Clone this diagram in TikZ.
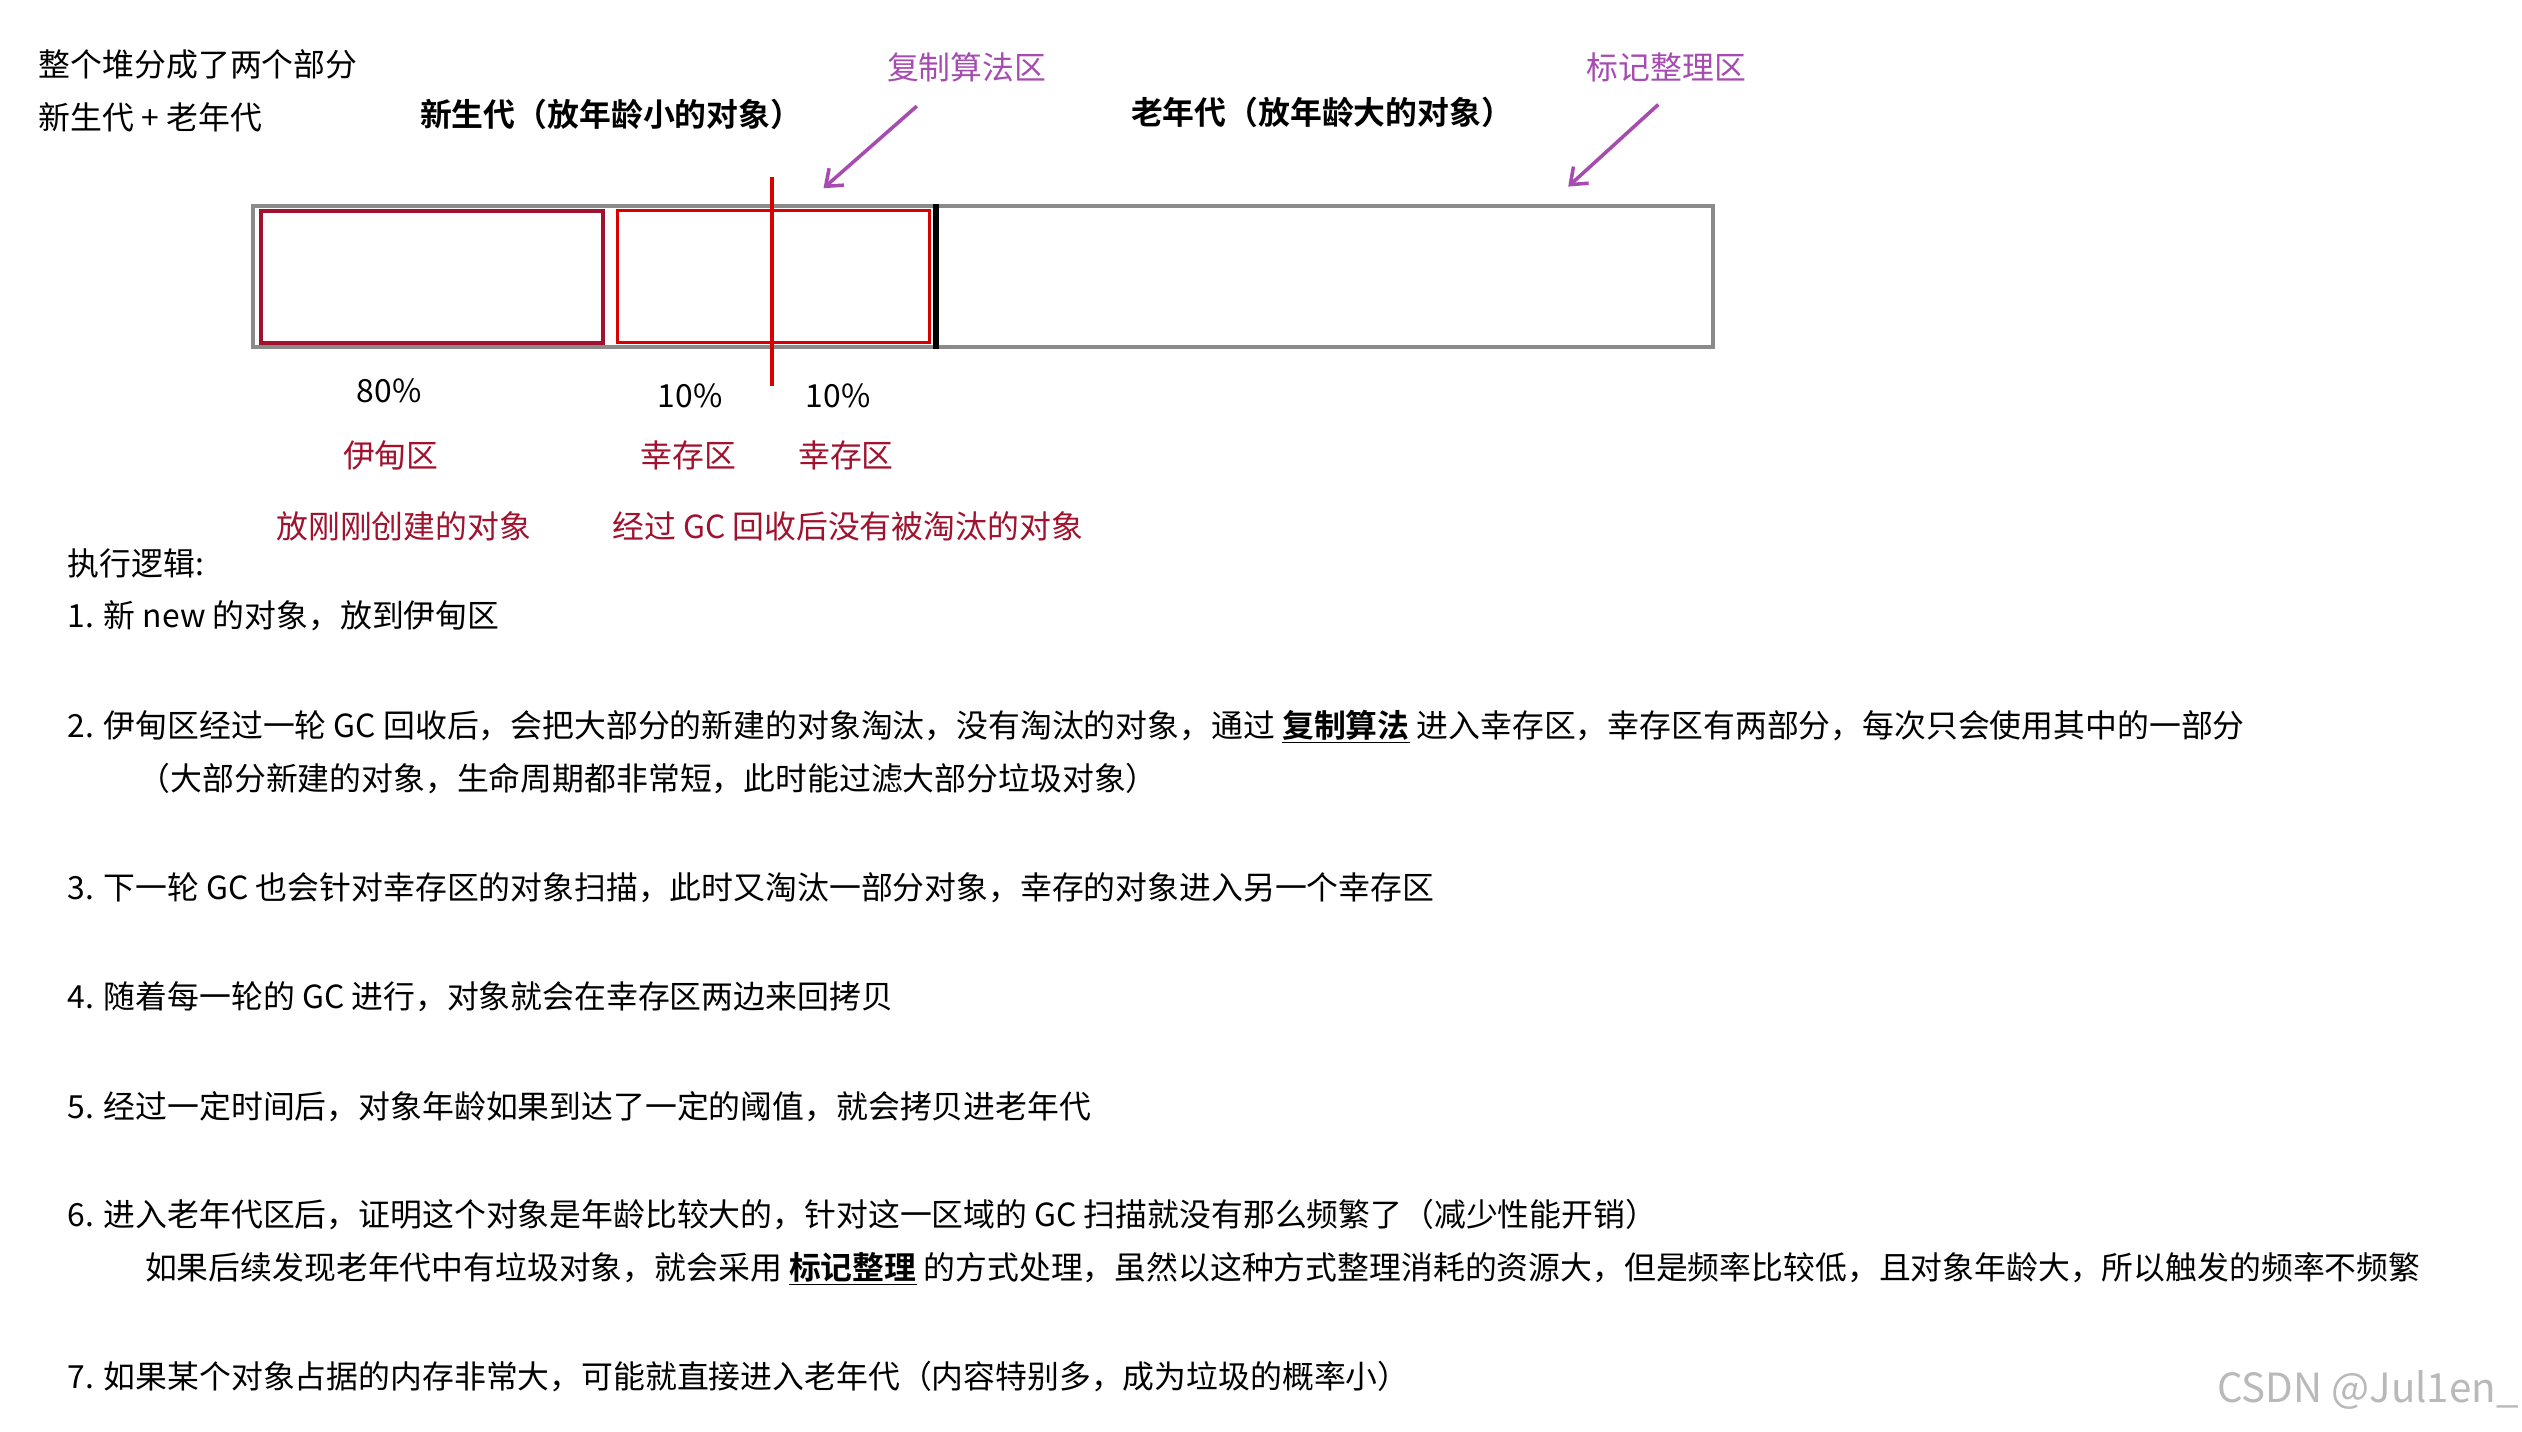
\documentclass[tikz,border=0pt]{standalone}
\usepackage{fontspec}
\setmainfont{Noto Sans CJK SC}[BoldFont={* Bold}]
\definecolor{dred}{HTML}{A0122E}
\definecolor{purp}{HTML}{A64CB0}
\definecolor{gbox}{HTML}{8A8A8A}
\tikzset{t/.style={font=\fontsize{19.8}{24}\selectfont,inner sep=0pt},
 l/.style={t,anchor=west},
 parrow/.style={purp,line width=2.2pt,-{Straight Barb[length=9pt,width=14pt]}}}
\usetikzlibrary{arrows.meta}
\begin{document}
\begin{tikzpicture}[x=1pt,y=-1pt]
\useasboundingbox[fill=white] (0,0) rectangle (1568,890);
\node[l] (a1) at (24,40) {整个堆分成了两个部分};
\node[l] (a2) at (24,73) {新生代 + 老年代};
\node[t,font=\fontsize{19.8}{24}\selectfont\bfseries] (yg) at (380,71) {新生代（放年龄小的对象）};
\node[t,font=\fontsize{19.8}{24}\selectfont\bfseries] (og) at (822,70) {老年代（放年龄大的对象）};
\node[t,purp] (cp) at (601,42) {复制算法区};
\node[t,purp] (mk) at (1036,42) {标记整理区};
\coordinate (c1) at (570,66); \coordinate (c2) at (512,117);
\coordinate (m1) at (1031,65); \coordinate (m2) at (975,116);
\draw[parrow] (c1) -- (c2);
\draw[parrow] (m1) -- (m2);
\draw[gbox,line width=2.5pt] (157,128) rectangle (1065,216);
\draw[dred,line width=2.5pt] (162,131) rectangle (375,213);
\draw[red!85!black,line width=2.2pt] (384,131) rectangle (578,213);
\draw[red!85!black,line width=2pt] (480,110) -- (480,240);
\draw[black,line width=3.5pt] (582,127) -- (582,217);
\node[t] (p1) at (242,243) {80\%};
\node[t] (p2) at (429,246) {10\%};
\node[t] (p3) at (521,246) {10\%};
\node[t,dred] (e) at (243,283) {伊甸区};
\node[t,dred] (s1) at (428,283) {幸存区};
\node[t,dred] (s2) at (526,283) {幸存区};
\node[t,dred] (d1) at (251,327) {放刚刚创建的对象};
\node[t,dred] (d2) at (527,327) {经过 GC 回收后没有被淘汰的对象};
\node[l] (h) at (42,350) {执行逻辑:};
\node[l] (i1) at (42,383) {1. 新 new 的对象，放到伊甸区};
\node[l] (i2) at (42,452) {2. 伊甸区经过一轮 GC 回收后，会把大部分的新建的对象淘汰，没有淘汰的对象，通过 \underline{\textbf{复制算法}} 进入幸存区，幸存区有两部分，每次只会使用其中的一部分};
\node[l] (i2b) at (86,484) {（大部分新建的对象，生命周期都非常短，此时能过滤大部分垃圾对象）};
\node[l] (i3) at (42,552) {3. 下一轮 GC 也会针对幸存区的对象扫描，此时又淘汰一部分对象，幸存的对象进入另一个幸存区};
\node[l] (i4) at (42,620) {4. 随着每一轮的 GC 进行，对象就会在幸存区两边来回拷贝};
\node[l] (i5) at (42,688) {5. 经过一定时间后，对象年龄如果到达了一定的阈值，就会拷贝进老年代};
\node[l] (i6) at (42,755) {6. 进入老年代区后，证明这个对象是年龄比较大的，针对这一区域的 GC 扫描就没有那么频繁了（减少性能开销）};
\node[l] (i6b) at (90,789) {如果后续发现老年代中有垃圾对象，就会采用 \underline{\textbf{标记整理}} 的方式处理，虽然以这种方式整理消耗的资源大，但是频率比较低，且对象年龄大，所以触发的频率不频繁};
\node[l] (i7) at (42,856) {7. 如果某个对象占据的内存非常大，可能就直接进入老年代（内容特别多，成为垃圾的概率小）};
\node[t,anchor=east,gray!55,font=\fontsize{25}{28}\selectfont] (w) at (1566,864) {CSDN @Jul1en\_};
\end{tikzpicture}
\end{document}
